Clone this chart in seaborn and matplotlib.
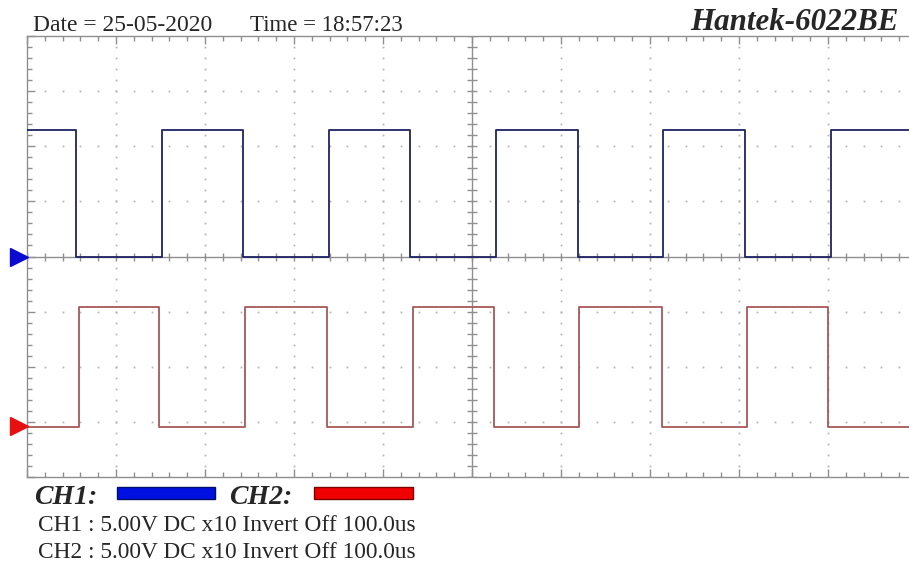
import numpy as np
import pandas as pd
import matplotlib.pyplot as plt
import seaborn as sns
from matplotlib.patches import Rectangle

# edge times in us (100 us / div), levels in divisions
ch1_fall = [55, 243, 430, 619, 807]
ch1_rise = [152, 339, 527, 715, 903]
ch2_rise = [58, 245, 434, 620, 809]
ch2_fall = [148, 337, 525, 714, 900]
ch1_high, ch1_low = 2.29, 0.0
ch2_high, ch2_low = -0.92, -3.10
t_start, t_end = 0, 1000

ch1_color = '#1f2262'
ch2_color = '#a85757'
grid_color = '#8f8f8f'


def steps(first_level, other_level, edges):
    # level toggles at each edge, held to the end of the screen
    t = [t_start] + sorted(edges) + [t_end]
    v = [first_level]
    lev = first_level
    for _ in edges:
        lev = other_level if lev == first_level else first_level
        v.append(lev)
    v.append(lev)
    return t, v


t1, v1 = steps(ch1_high, ch1_low, ch1_fall + ch1_rise)
t2, v2 = steps(ch2_low, ch2_high, ch2_rise + ch2_fall)
df = pd.concat([
    pd.DataFrame({'t': t1, 'v': v1, 'ch': 'CH1'}),
    pd.DataFrame({'t': t2, 'v': v2, 'ch': 'CH2'}),
])

sns.set_style('white')
W, H = 909, 564
fig = plt.figure(figsize=(W / 100, H / 100), dpi=100)
ax = fig.add_axes([27 / W, 1 - 477 / H, (917 - 27) / W, (477 - 36) / H])

sns.lineplot(data=df, x='t', y='v', hue='ch', palette=[ch1_color, ch2_color],
             drawstyle='steps-post', linewidth=1.3, estimator=None, sort=False,
             legend=False, ax=ax, zorder=5)

ax.set_xlim(0, 1000)
ax.set_ylim(-4, 4)
ax.set_xticks(np.arange(0, 1001, 100))
ax.set_xticks(np.arange(0, 1001, 20), minor=True)
ax.set_yticks(np.arange(-4, 4.01, 1))
ax.set_yticks(np.arange(-4, 4.01, 0.2), minor=True)
ax.tick_params(which='both', direction='in', top=True, bottom=True, left=True,
               right=False, labelbottom=False, labelleft=False,
               color=grid_color, width=1)
ax.tick_params(which='major', length=6)
ax.tick_params(which='minor', length=3.5)
ax.set_xlabel('')
ax.set_ylabel('')
for sp in ax.spines.values():
    sp.set_color(grid_color)
    sp.set_linewidth(1)

# dotted graticule
minor_x = np.arange(0, 1001, 20)
minor_y = np.arange(-4, 4.01, 0.2)
for gx in range(100, 1000, 100):
    if gx == 500:
        continue
    ax.plot(np.full_like(minor_y, gx), minor_y, ls='none', marker='s', ms=1.3,
            mew=0, color='#b5b5b5', zorder=1)
for gy in range(-3, 4):
    if gy == 0:
        continue
    ax.plot(minor_x, np.full_like(minor_x, gy, dtype=float), ls='none', marker='s',
            ms=1.3, mew=0, color='#b5b5b5', zorder=1)

# center cross with ticks
ax.axhline(0, color=grid_color, lw=1, zorder=2)
ax.axvline(500, color=grid_color, lw=1, zorder=2)
ax.plot(minor_x, np.zeros_like(minor_x), ls='none', marker='|', ms=6,
        color=grid_color, zorder=2)
ax.plot(np.full_like(minor_y, 500), minor_y, ls='none', marker='_', ms=7,
        color=grid_color, zorder=2)

# channel offset markers
ax.plot([-9.5], [ch1_low], marker='>', ms=13, color='#0a0ad0', clip_on=False, zorder=6)
ax.plot([-9.5], [ch2_low + 0.03], marker='>', ms=13, color='#e61010', clip_on=False, zorder=6)

serif = ['Liberation Serif', 'DejaVu Serif']
fig.text(33 / W, 1 - 31 / H, 'Date = 25-05-2020', family=serif, fontsize=17)
fig.text(250 / W, 1 - 31 / H, 'Time = 18:57:23', family=serif, fontsize=16.5)
fig.text(899 / W, 1 - 30 / H, 'Hantek-6022BE', family=serif, fontsize=22.3,
         fontweight='bold', fontstyle='italic', ha='right')

fig.text(34 / W, 1 - 504 / H, 'CH1:', family=serif, fontsize=20,
         fontweight='bold', fontstyle='italic')
fig.text(229 / W, 1 - 504 / H, 'CH2:', family=serif, fontsize=20,
         fontweight='bold', fontstyle='italic')
fig.patches.append(Rectangle((117 / W, 1 - 499 / H), 98 / W, 12 / H,
                             transform=fig.transFigure, facecolor='#0010e0',
                             edgecolor='#00106a', lw=1))
fig.patches.append(Rectangle((314 / W, 1 - 499 / H), 99 / W, 12 / H,
                             transform=fig.transFigure, facecolor='#f00000',
                             edgecolor='#7a0000', lw=1))

fig.text(38 / W, 1 - 531 / H, 'CH1 : 5.00V DC x10 Invert Off 100.0us',
         family=serif, fontsize=16.8)
fig.text(38 / W, 1 - 558 / H, 'CH2 : 5.00V DC x10 Invert Off 100.0us',
         family=serif, fontsize=16.8)

fig.savefig('out.png', dpi=100)
